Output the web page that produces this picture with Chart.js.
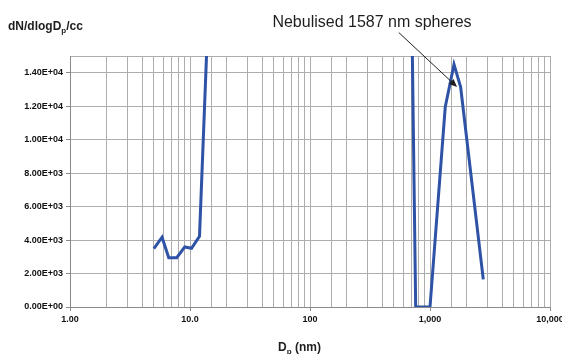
<!DOCTYPE html>
<html>
<head>
<meta charset="utf-8">
<script src="https://cdn.jsdelivr.net/npm/chart.js@4"></script>
<style>
    body { margin: 0; background: #fff; }
    canvas { display: block; }
</style>
</head>
<body>
<canvas id="sizeChart" width="562" height="354"></canvas>
<script>
// particle diameter (nm) and number concentration
const diameters = [5.0, 5.85, 6.65, 7.75, 9.05, 10.3, 12.0, 13.9, 710, 760, 1000, 1340, 1585, 1800, 2780];
const counts = [3490, 4170, 2950, 2950, 3590, 3510, 4230, 16000, 16000, 0, 0, 11960, 14500, 13150, 1650];
const xTickValues = [1, 10, 100, 1000, 10000];
const xTickLabels = ['1.00', '10.0', '100', '1,000', '10,000'];
const yTickValues = [0, 2000, 4000, 6000, 8000, 10000, 12000, 14000, 15000];
const annotationText = 'Nebulised 1587 nm spheres';

function sciLabel(v) {
    if (v === 15000) return '';
    let exp = v === 0 ? 0 : Math.floor(Math.log10(v));
    let mant = v === 0 ? 0 : v / Math.pow(10, exp);
    let e = String(Math.abs(exp)).padStart(2, '0');
    return mant.toFixed(2) + 'E' + (exp < 0 ? '-' : '+') + e;
}

function isMajor(v) {
    return xTickValues.indexOf(v) !== -1;
}

const overlay = {
    id: 'overlay',
    afterDraw(chart) {
        const ctx = chart.ctx;
        const x = chart.scales.x, y = chart.scales.y;
        ctx.save();
        ctx.fillStyle = '#1e1e1e';
        ctx.textBaseline = 'alphabetic';
        ctx.textAlign = 'left';

        // y axis title dN/dlogDp/cc
        ctx.font = 'bold 12px "Liberation Sans", Arial, sans-serif';
        let px = 8;
        ctx.fillText('dN/dlogD', px, 30);
        px += ctx.measureText('dN/dlogD').width;
        ctx.font = 'bold 8px "Liberation Sans", Arial, sans-serif';
        ctx.fillText('p', px, 33);
        px += ctx.measureText('p').width;
        ctx.font = 'bold 12px "Liberation Sans", Arial, sans-serif';
        ctx.fillText('/cc', px, 30);

        // x axis title Dp (nm)
        ctx.font = 'bold 12px "Liberation Sans", Arial, sans-serif';
        px = 278;
        ctx.fillText('D', px, 351);
        px += ctx.measureText('D').width;
        ctx.font = 'bold 8px "Liberation Sans", Arial, sans-serif';
        ctx.fillText('p', px, 354);
        px += ctx.measureText('p').width;
        ctx.font = 'bold 12px "Liberation Sans", Arial, sans-serif';
        ctx.fillText(' (nm)', px, 351);

        // annotation
        ctx.font = '16px "Liberation Sans", Arial, sans-serif';
        ctx.textAlign = 'center';
        ctx.fillText(annotationText, 372, 27);

        const x0 = x.getPixelForValue(550), y0 = y.getPixelForValue(16400);
        const x1 = x.getPixelForValue(1680), y1 = y.getPixelForValue(13150);
        const ang = Math.atan2(y1 - y0, x1 - x0);
        ctx.strokeStyle = '#1e1e1e';
        ctx.lineWidth = 1;
        ctx.beginPath();
        ctx.moveTo(x0, y0);
        ctx.lineTo(x1 - 6 * Math.cos(ang), y1 - 6 * Math.sin(ang));
        ctx.stroke();
        ctx.beginPath();
        ctx.moveTo(x1, y1);
        ctx.lineTo(x1 - 8 * Math.cos(ang) + 3.5 * Math.sin(ang), y1 - 8 * Math.sin(ang) - 3.5 * Math.cos(ang));
        ctx.lineTo(x1 - 8 * Math.cos(ang) - 3.5 * Math.sin(ang), y1 - 8 * Math.sin(ang) + 3.5 * Math.cos(ang));
        ctx.closePath();
        ctx.fill();
        ctx.restore();
    }
};

const ctx = document.getElementById('sizeChart').getContext('2d');
new Chart(ctx, {
    type: 'line',
    data: {
        datasets: [{
            data: diameters.map((d, i) => ({ x: d, y: counts[i] })),
            borderColor: '#2d52a6',
            borderWidth: 3,
            pointRadius: 0,
            tension: 0,
            fill: false
        }]
    },
    options: {
        responsive: false,
        animation: false,
        layout: { padding: { top: 56, right: 12, left: 0, bottom: 0 } },
        plugins: { legend: { display: false }, tooltip: { enabled: false } },
        scales: {
            x: {
                type: 'logarithmic',
                min: 1,
                max: 10000,
                afterFit: s => { s.height = 47; s.paddingLeft = 0; s.paddingRight = 0; },
                border: { color: '#8a8a8a', width: 1 },
                grid: {
                    color: '#adadad',
                    lineWidth: 1,
                    tickLength: 4,
                    tickColor: c => (c.tick && isMajor(c.tick.value)) ? '#8a8a8a' : 'rgba(0,0,0,0)'
                },
                ticks: {
                    autoSkip: false,
                    maxRotation: 0,
                    padding: 3,
                    color: '#111',
                    font: { family: '"Liberation Sans", Arial, sans-serif', size: 9, weight: 'bold' },
                    callback: v => {
                        const i = xTickValues.indexOf(v);
                        return i === -1 ? '' : xTickLabels[i];
                    }
                }
            },
            y: {
                min: 0,
                max: 15000,
                afterBuildTicks: s => { s.ticks = yTickValues.map(v => ({ value: v })); },
                afterFit: s => { s.width = 70; s.paddingTop = 0; s.paddingBottom = 0; },
                border: { color: '#8a8a8a', width: 1 },
                grid: {
                    color: '#adadad',
                    lineWidth: 1,
                    tickLength: 4,
                    tickColor: c => (c.tick && c.tick.value === 15000) ? 'rgba(0,0,0,0)' : '#8a8a8a'
                },
                ticks: {
                    padding: 3,
                    color: '#111',
                    font: { family: '"Liberation Sans", Arial, sans-serif', size: 9, weight: 'bold' },
                    callback: v => sciLabel(v)
                }
            }
        }
    },
    plugins: [overlay]
});
</script>
</body>
</html>
